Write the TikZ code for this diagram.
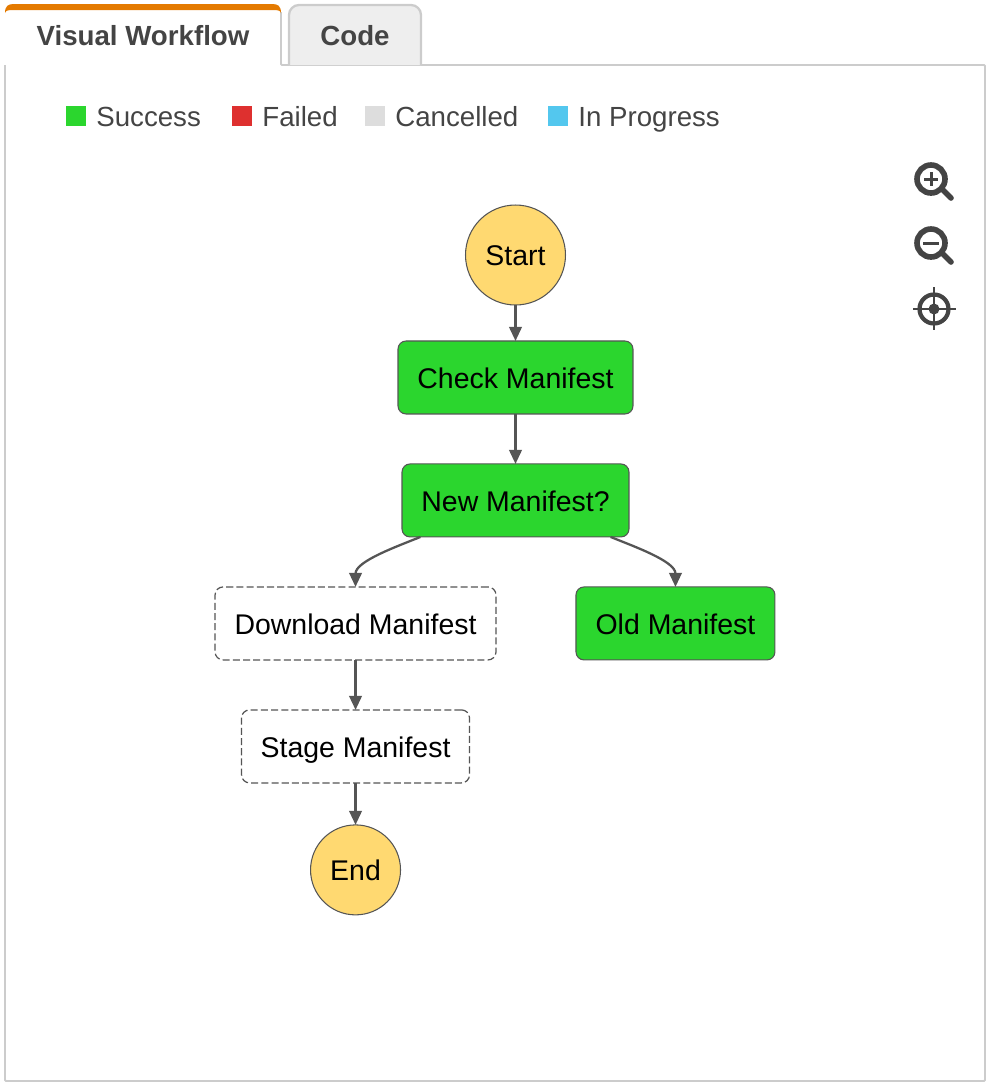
\documentclass[tikz,border=0pt]{standalone}
\usepackage{fontspec}
\setmainfont{Liberation Sans}
\usepackage{xcolor}
\usetikzlibrary{arrows.meta, positioning}
\definecolor{success}{HTML}{2BD62E}
\definecolor{failed}{HTML}{DE302F}
\definecolor{cancelled}{HTML}{DDDDDD}
\definecolor{progress}{HTML}{53C7EE}
\definecolor{terminal}{HTML}{FFD971}
\definecolor{edgegray}{HTML}{555555}
\definecolor{textgray}{HTML}{444444}
\definecolor{panelgray}{HTML}{CCCCCC}
\definecolor{tabgray}{HTML}{EEEEEE}
\definecolor{taborange}{HTML}{E47A00}

\begin{document}
\begin{tikzpicture}[
  x=0.02cm, y=-0.02cm,
  font=\fontsize{16.2}{18}\selectfont,
  state/.style={rectangle, rounded corners=0.16cm, draw=edgegray, line width=0.6pt,
                minimum height=1.46cm, outer sep=0pt, inner sep=0pt, text=black,
                text height=12.5pt, text depth=0.3pt},
  done/.style={state, fill=success},
  pending/.style={state, fill=white, dashed, dash pattern=on 4pt off 1.8pt, line width=0.7pt},
  terminal/.style={circle, draw=edgegray, line width=0.6pt, fill=terminal,
                   outer sep=0pt, inner sep=0pt, text=black,
                   text height=12.5pt, text depth=0.3pt},
  arrow/.style={-{Triangle[length=0.28cm, width=0.25cm]}, line width=1.3pt, color=edgegray},
  tablbl/.style={font=\fontsize{15.75}{18}\selectfont\bfseries, text=textgray},
  legendbox/.style={minimum size=0.4cm, inner sep=0pt, outer sep=0pt},
  legendlbl/.style={font=\fontsize{15.75}{18}\selectfont, text=textgray, right=0.2cm, inner sep=0pt,
                    text height=12pt, text depth=0.4pt},
  icon/.style={draw=textgray, line width=3.2pt},
]
\useasboundingbox (0,0) rectangle (990,1086);

% tabs and panel
\draw[panelgray, line width=1.1pt, rounded corners=0.02cm] (281,12) -- (281,65) -- (985,65) -- (985,1081) -- (5,1081) -- (5,65);
\draw[panelgray, line width=1.3pt, fill=tabgray, rounded corners=0.2cm] (289,65) -- (289,5) -- (421,5) -- (421,65);
\fill[taborange] (5,13) .. controls (5,6) and (8,4) .. (14,4) -- (272,4)
  .. controls (278,4) and (281,6) .. (281,13) .. controls (280,10) and (277,10) .. (272,10)
  -- (14,10) .. controls (9,10) and (6,10) .. (5,13) -- cycle;
\node[tablbl] (visual) at (143,36) {Visual Workflow};
\node[tablbl] (code) at (355,36) {Code};

% legend
\node[legendbox, fill=success] (lsuccess) at (76,116) {};
\node[legendlbl] at (lsuccess.east) {Success};
\node[legendbox, fill=failed] (lfailed) at (242,116) {};
\node[legendlbl] at (lfailed.east) {Failed};
\node[legendbox, fill=cancelled] (lcancelled) at (375,116) {};
\node[legendlbl] at (lcancelled.east) {Cancelled};
\node[legendbox, fill=progress] (lprogress) at (558,116) {};
\node[legendlbl] at (lprogress.east) {In Progress};

% zoom icons
\draw[icon] (931,179) circle (0.28cm);
\draw[icon, line cap=round] (943,190) -- (951,198);
\draw[textgray, line width=1.7pt] (924,179) -- (938,179) (931,172) -- (931,186);
\draw[icon] (931,243) circle (0.28cm);
\draw[icon, line cap=round] (943,254) -- (951,262);
\draw[textgray, line width=1.7pt] (923,243) -- (939,243);
\draw[textgray, line width=2.4pt] (934,309) circle (0.29cm);
\fill[textgray] (934,309) circle (0.11cm);
\draw[textgray, line width=1.6pt] (913,309) -- (956,309) (934,287) -- (934,330);

% workflow
\node[terminal, minimum size=2cm] (start) at (515.5,255) {Start};
\node[done, minimum width=4.7cm, below=0.72cm of start] (check) {Check Manifest};
\node[done, minimum width=4.54cm, below=1cm of check] (new) {New Manifest?};
\node[pending, minimum width=5.62cm, below=1cm of new, xshift=-3.2cm] (download) {Download Manifest};
\node[done, minimum width=3.98cm, below=1cm of new, xshift=3.2cm] (old) {Old Manifest};
\node[pending, minimum width=4.56cm, below=1cm of download] (stage) {Stage Manifest};
\node[terminal, minimum size=1.8cm, below=0.84cm of stage] (end) {End};

\draw[arrow] (start) -- (check);
\draw[arrow] (check) -- (new);
\draw[arrow] (new.-159) to[out=-158, in=90, looseness=0.8] (download.north);
\draw[arrow] (new.-21) to[out=-22, in=90, looseness=0.8] (old.north);
\draw[arrow] (download) -- (stage);
\draw[arrow] (stage) -- (end);
\end{tikzpicture}
\end{document}
